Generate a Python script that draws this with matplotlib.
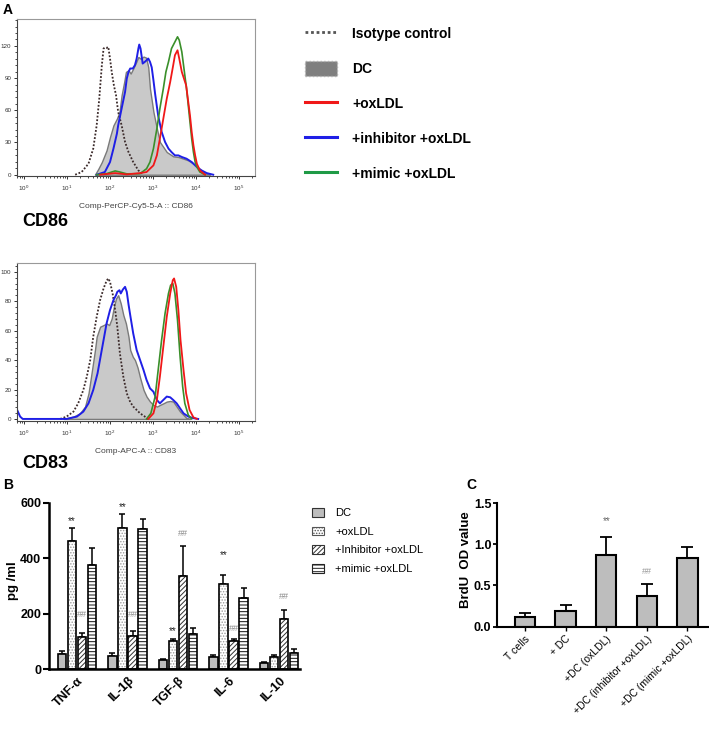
import numpy as np
import matplotlib
matplotlib.use('Agg')
import matplotlib.pyplot as plt
from matplotlib.lines import Line2D
from matplotlib.patches import Patch
from matplotlib.ticker import LogLocator, MultipleLocator, NullFormatter, LogFormatterMathtext

plt.rcParams['font.family'] = ['Liberation Sans', 'DejaVu Sans']
plt.rcParams['hatch.linewidth'] = 0.7

# ---- panel A: flow histograms, x = log10 fluorescence, y = count ----
cd86_iso_x = [1.19, 1.34, 1.50, 1.61, 1.69, 1.75, 1.81, 1.85, 1.88, 1.92, 1.96, 2.00, 2.04, 2.09, 2.14, 2.19, 2.27, 2.35, 2.43, 2.54, 2.66, 2.78]
cd86_iso_y = [0, 2.5, 10.3, 24.3, 46.0, 70.8, 101.9, 117.5, 118.4, 118.1, 119.0, 108.2, 95.7, 83.3, 74.0, 58.4, 46.0, 30.5, 21.1, 11.8, 4.0, 0]
cd86_dc_x = [1.65, 1.73, 1.81, 1.92, 2.00, 2.08, 2.16, 2.22, 2.27, 2.33, 2.37, 2.43, 2.48, 2.54, 2.61, 2.66, 2.71, 2.78, 2.84, 2.89, 2.93, 3.01, 3.09, 3.16, 3.24, 3.32, 3.40, 3.47, 3.59, 3.71, 3.82, 3.94, 4.05, 4.17, 4.33]
cd86_dc_y = [0, 5.6, 11.8, 22.7, 35.1, 46, 52.2, 58.4, 74, 86.4, 95.7, 97.3, 94.2, 98.9, 105, 109.7, 108, 110, 109, 100, 80, 58.4, 42.9, 30.5, 25.8, 21.1, 19, 17.1, 16.5, 14.9, 13.4, 10.3, 6.2, 2.5, 0]
cd86_inh_x = [1.69, 1.88, 2.00, 2.08, 2.16, 2.19, 2.27, 2.35, 2.39, 2.43, 2.47, 2.53, 2.58, 2.62, 2.66, 2.68, 2.71, 2.76, 2.81, 2.85, 2.89, 2.93, 2.97, 3.01, 3.05, 3.12, 3.20, 3.28, 3.36, 3.43, 3.51, 3.59, 3.67, 3.78, 3.90, 4.02, 4.13, 4.25, 4.40]
cd86_inh_y = [0, 2.5, 11.8, 24.3, 38.2, 46, 61.6, 77.1, 89.5, 95.7, 98.9, 98.9, 102, 108.2, 117.5, 121.2, 117.5, 103.5, 105.1, 106.6, 108.2, 105.1, 100, 88, 75, 55, 40, 30.5, 24.3, 21.1, 18, 18, 16.5, 14.9, 11.8, 7.2, 4, 1.5, 0]
cd86_mim_x = [1.69, 1.92, 2.12, 2.23, 2.39, 2.70, 2.85, 2.93, 3.01, 3.09, 3.16, 3.24, 3.30, 3.36, 3.43, 3.51, 3.57, 3.61, 3.67, 3.71, 3.74, 3.78, 3.82, 3.86, 3.90, 3.94, 3.98, 4.02, 4.09, 4.21]
cd86_mim_y = [0, 1, 3.5, 2.5, 0.8, 1, 5.6, 11.8, 24.3, 42.9, 61.6, 80.2, 95.7, 105.1, 117.5, 123.7, 128.4, 125.3, 114.4, 102, 92.6, 80.2, 64.7, 49.1, 33.6, 21.1, 11.8, 7.2, 2.5, 0]
cd86_ox_x = [1.77, 2.12, 2.39, 2.70, 2.85, 3.01, 3.09, 3.16, 3.24, 3.32, 3.40, 3.47, 3.51, 3.57, 3.61, 3.67, 3.72, 3.77, 3.82, 3.86, 3.90, 3.94, 3.98, 4.02, 4.09, 4.21]
cd86_ox_y = [0, 1.5, 0.3, 1.5, 2.5, 8.7, 18, 33.6, 52.2, 70.8, 86.4, 102, 111.3, 115.9, 108.2, 95.7, 89.5, 83.3, 67.8, 55.3, 39.8, 27.4, 18, 10.3, 4, 0]

cd83_iso_x = [0.84, 0.99, 1.15, 1.26, 1.38, 1.46, 1.54, 1.61, 1.69, 1.77, 1.85, 1.92, 1.96, 2.00, 2.06, 2.12, 2.17, 2.23, 2.31, 2.39, 2.47, 2.54, 2.70, 2.89]
cd83_iso_y = [0, 1.6, 5, 10.6, 19.7, 28.7, 40, 55.9, 69.4, 80.8, 88.7, 93.9, 95.5, 93.2, 85.3, 74, 62.7, 44.6, 28.7, 17.4, 11.5, 8.4, 3.8, 0]
cd83_dc_x = [0.92, 1.15, 1.30, 1.42, 1.50, 1.57, 1.65, 1.69, 1.77, 1.85, 1.92, 1.98, 2.04, 2.09, 2.14, 2.19, 2.25, 2.31, 2.37, 2.43, 2.47, 2.53, 2.58, 2.64, 2.70, 2.78, 2.85, 2.93, 3.01, 3.09, 3.16, 3.24, 3.32, 3.40, 3.47, 3.55, 3.63, 3.71, 3.78, 3.86]
cd83_dc_y = [0, 1.6, 3.8, 8.4, 17.4, 31, 46.8, 55.9, 62.7, 63.8, 64.9, 63.8, 68.3, 76.2, 81.9, 84.1, 78.5, 70.6, 64.9, 55.9, 46.8, 42.3, 40, 35, 28, 19.7, 15.2, 11.8, 9.5, 8.4, 9.5, 10.6, 11.8, 12.2, 11.8, 8.4, 5, 2.7, 0.5, 0]
cd83_inh_x = [-0.16, -0.09, -0.03, 0.30, 0.99, 1.23, 1.38, 1.50, 1.61, 1.71, 1.78, 1.85, 1.92, 2.00, 2.08, 2.14, 2.17, 2.22, 2.25, 2.30, 2.35, 2.39, 2.43, 2.47, 2.54, 2.62, 2.70, 2.78, 2.85, 2.93, 3.01, 3.09, 3.16, 3.24, 3.32, 3.40, 3.47, 3.55, 3.63, 3.71, 3.82, 3.94, 4.05]
cd83_inh_y = [6.1, 1.6, 0, 0, 0, 1.6, 5, 10.6, 19.7, 31, 42.3, 53.6, 64.9, 74, 80.8, 84.1, 86.4, 87.5, 85.3, 88, 89.8, 86.4, 78, 70.6, 58.1, 46.8, 40, 33.2, 26.5, 20.8, 18.5, 12.9, 10.6, 12.9, 15.2, 14.7, 12.9, 10.6, 7.2, 3.8, 1.6, 0.5, 0]
cd83_mim_x = [2.85, 2.95, 3.05, 3.12, 3.20, 3.28, 3.36, 3.41, 3.46, 3.51, 3.57, 3.63, 3.69, 3.74, 3.82, 3.90]
cd83_mim_y = [0, 3.8, 15.2, 33.2, 53.6, 71.7, 85.3, 90.9, 92.1, 85.3, 67.2, 42.3, 21.9, 10.6, 2.7, 0]
cd83_ox_x = [2.89, 3.01, 3.09, 3.16, 3.24, 3.32, 3.40, 3.46, 3.49, 3.54, 3.59, 3.64, 3.71, 3.77, 3.85, 3.94, 4.02]
cd83_ox_y = [0, 3.8, 12.9, 28.7, 49.1, 69.4, 85.3, 94.3, 95.5, 89.8, 74, 53.6, 33.2, 17.4, 6.1, 1.1, 0]

# ---- panel B: cytokines ----
cytokines = ['TNF-α', 'IL-1β', 'TGF-β', 'IL-6', 'IL-10']
groups_b = ['DC', '+oxLDL', '+Inhibitor +oxLDL', '+mimic +oxLDL']
dc_mean = [57, 48, 34, 46, 24]
dc_err = [9, 10, 4, 6, 2]
ox_mean = [463, 511, 103, 307, 43]
ox_err = [48, 51, 6, 35, 7]
inh_mean = [115, 120, 337, 102, 182]
inh_err = [17, 19, 109, 8, 32]
mim_mean = [378, 506, 127, 258, 59]
mim_err = [58, 38, 21, 34, 13]
star_y = [534, 586, 139, 412]       # '**' above +oxLDL (TNF..IL-6)
hash_y = [196, 196, 490, 148, 264]  # '##' above inhibitor

# ---- panel C: BrdU ----
c_labels = ['T cells', '+ DC', '+DC (oxLDL)', '+DC (inhibitor +oxLDL)', '+DC (mimic +oxLDL)']
c_mean = [0.114, 0.195, 0.872, 0.377, 0.83]
c_err = [0.048, 0.073, 0.214, 0.138, 0.134]

fig = plt.figure(figsize=(7.09, 7.31), dpi=100)
W, H = 709.0, 731.0


def rect(l, t, r, b):
    return [l / W, 1 - b / H, (r - l) / W, (b - t) / H]


def histo(r, dc, iso, inh, mim, ox, ylim, step, minor, xlabel):
    ax = fig.add_axes(r)
    ax.fill_between(10 ** np.array(dc[0]), dc[1], color='#c9c9c9', edgecolor='#7a7a7a', lw=1.0)
    ax.plot(10 ** np.array(iso[0]), iso[1], color='#3b2a2a', lw=1.3, ls=(0, (1, 1)))
    ax.plot(10 ** np.array(inh[0]), inh[1], color='#1f1fe6', lw=1.4)
    ax.plot(10 ** np.array(mim[0]), mim[1], color='#3a8f2a', lw=1.2)
    ax.plot(10 ** np.array(ox[0]), ox[1], color='#f01818', lw=1.3)
    ax.set_xscale('log')
    ax.set_xlim(10 ** -0.163, 10 ** 5.372)
    ax.set_ylim(*ylim)
    ax.xaxis.set_major_locator(LogLocator(base=10, numticks=10))
    ax.xaxis.set_minor_locator(LogLocator(base=10, subs=np.arange(2, 10), numticks=20))
    ax.xaxis.set_major_formatter(LogFormatterMathtext())
    ax.xaxis.set_minor_formatter(NullFormatter())
    ax.yaxis.set_major_locator(MultipleLocator(step))
    ax.yaxis.set_minor_locator(MultipleLocator(minor))
    ax.tick_params(labelsize=4.5, colors='#333333', length=2.5, width=0.7, direction='out', pad=1.5)
    ax.tick_params(axis='x', pad=3)
    ax.tick_params(which='minor', length=1.5, width=0.5)
    for s in ax.spines.values():
        s.set_color('#999999')
        s.set_linewidth(0.8)
    ax.spines['left'].set_color('#444444')
    ax.spines['bottom'].set_color('#444444')
    ax.set_xlabel(xlabel, fontsize=6, color='#444444', labelpad=7)
    return ax


histo(rect(17, 19, 255, 176), (cd86_dc_x, cd86_dc_y), (cd86_iso_x, cd86_iso_y),
      (cd86_inh_x, cd86_inh_y), (cd86_mim_x, cd86_mim_y), (cd86_ox_x, cd86_ox_y),
      (-1.2, 145), 30, 6, 'Comp-PerCP-Cy5-5-A :: CD86')
histo(rect(17, 263, 255, 421), (cd83_dc_x, cd83_dc_y), (cd83_iso_x, cd83_iso_y),
      (cd83_inh_x, cd83_inh_y), (cd83_mim_x, cd83_mim_y), (cd83_ox_x, cd83_ox_y),
      (-1.4, 106), 20, 4, 'Comp-APC-A :: CD83')

fig.text(3 / W, 1 - 10 / H, 'A', fontsize=10, fontweight='bold', va='center')
fig.text(22 / W, 1 - 222 / H, 'CD86', fontsize=13, fontweight='bold', va='center')
fig.text(22 / W, 1 - 464 / H, 'CD83', fontsize=13, fontweight='bold', va='center')

leg_a = [Line2D([], [], color='#555555', lw=2, ls=(0, (1, 1))),
         Patch(facecolor='#7f7f7f', edgecolor='#b0b0b0', ls=':'),
         Line2D([], [], color='#f01818', lw=2.2),
         Line2D([], [], color='#1f1fe6', lw=2.2),
         Line2D([], [], color='#1f9a46', lw=2.2)]
fig.legend(leg_a, ['Isotype control', 'DC', '+oxLDL', '+inhibitor +oxLDL', '+mimic +oxLDL'],
           loc='upper left', bbox_to_anchor=(305 / W, 1 - 26 / H), frameon=False,
           borderpad=0, borderaxespad=0, handlelength=2.3, handleheight=1.3,
           handletextpad=1.1, labelspacing=1.42,
           prop={'size': 10, 'weight': 'bold'})

# ---- panel B ----
axb = fig.add_axes(rect(49, 503, 300, 669.3))
xb = np.arange(len(cytokines))
w = 0.17
styles = [('#bdbdbd', '', '#bdbdbd'), ('white', '......', '#9a9a9a'),
          ('white', '///////', '#333333'), ('white', '-----', '#111111')]
means = [dc_mean, ox_mean, inh_mean, mim_mean]
errs = [dc_err, ox_err, inh_err, mim_err]
offs = [-0.3, -0.1, 0.1, 0.3]
for (fc, hatch, hc), m, e, o in zip(styles, means, errs, offs):
    axb.bar(xb + o, m, w, color=fc, hatch=hatch, edgecolor=hc, lw=0, zorder=2)
    axb.bar(xb + o, m, w, fill=False, edgecolor='black', lw=1.2, zorder=3)
    axb.errorbar(xb + o, m, yerr=[np.zeros(len(m)), e], fmt='none', ecolor='black',
                 elinewidth=1.1, capsize=2.5, capthick=1.1, zorder=1)
for i, yv in enumerate(star_y):
    axb.text(xb[i] - 0.1, yv, '**', ha='center', va='center', fontsize=7, color='#222222')
for i, yv in enumerate(hash_y):
    axb.text(xb[i] + 0.1, yv, '##', ha='center', va='center', fontsize=6.5, color='#8a8a8a')
axb.set_xlim(-0.554, 4.416)
axb.set_ylim(0, 600)
axb.set_yticks([0, 200, 400, 600])
axb.set_xticks(xb)
axb.set_xticklabels(cytokines, rotation=45, ha='right', rotation_mode='anchor',
                    fontsize=9, fontweight='bold')
axb.set_yticklabels(['0', '200', '400', '600'], fontsize=9, fontweight='bold')
axb.tick_params(axis='x', length=0, pad=4)
axb.tick_params(axis='y', length=4, width=1.5, pad=1.5)
for s in ['top', 'right']:
    axb.spines[s].set_visible(False)
for s in ['left', 'bottom']:
    axb.spines[s].set_linewidth(1.8)
axb.set_ylabel('pg /ml', fontsize=9.5, fontweight='bold')
axb.yaxis.set_label_coords(-0.12, 0.536)
fig.text(3 / W, 1 - 485 / H, 'B', fontsize=10, fontweight='bold', va='center')

leg_b = [Patch(facecolor='#bdbdbd', edgecolor='#333333', lw=0.8),
         Patch(facecolor='white', edgecolor='#555555', hatch='......', lw=0.8),
         Patch(facecolor='white', edgecolor='#333333', hatch='///////', lw=0.8),
         Patch(facecolor='white', edgecolor='#222222', hatch='-----', lw=0.8)]
fig.legend(leg_b, groups_b, loc='upper left', bbox_to_anchor=(312 / W, 1 - 508 / H),
           frameon=False, borderpad=0, borderaxespad=0, handlelength=1.1,
           handleheight=0.8, handletextpad=1.0, labelspacing=0.77,
           prop={'size': 8})

# ---- panel C ----
axc = fig.add_axes(rect(497, 503, 709, 626.7))
xc = np.arange(len(c_labels))
axc.bar(xc, c_mean, 0.5, color='#bdbdbd', edgecolor='black', lw=1.5, zorder=2)
axc.errorbar(xc, c_mean, yerr=[np.zeros(len(c_mean)), c_err], fmt='none', ecolor='black',
             elinewidth=1.3, capsize=4, capthick=1.3, zorder=1)
axc.text(2, 1.28, '**', ha='center', va='center', fontsize=7, color='#666666')
axc.text(3, 0.67, '##', ha='center', va='center', fontsize=6.5, color='#999999')
axc.set_xlim(-0.69, 4.53)
axc.set_ylim(0, 1.5)
axc.set_yticks([0, 0.5, 1.0, 1.5])
axc.set_yticklabels(['0.0', '0.5', '1.0', '1.5'], fontsize=9, fontweight='bold')
axc.set_xticks(xc)
axc.set_xticklabels(c_labels, rotation=45, ha='right', rotation_mode='anchor', fontsize=7.5)
axc.tick_params(axis='x', length=3, width=1, pad=2)
axc.tick_params(axis='y', length=3, width=1.3, pad=1)
for s in ['top', 'right']:
    axc.spines[s].set_visible(False)
for s in ['left', 'bottom']:
    axc.spines[s].set_linewidth(1.5)
axc.set_ylabel('BrdU  OD value', fontsize=9.5, fontweight='bold')
axc.yaxis.set_label_coords(-0.118, 0.54)
fig.text(466 / W, 1 - 485 / H, 'C', fontsize=10, fontweight='bold', va='center')

fig.savefig('out.png', dpi=100)
